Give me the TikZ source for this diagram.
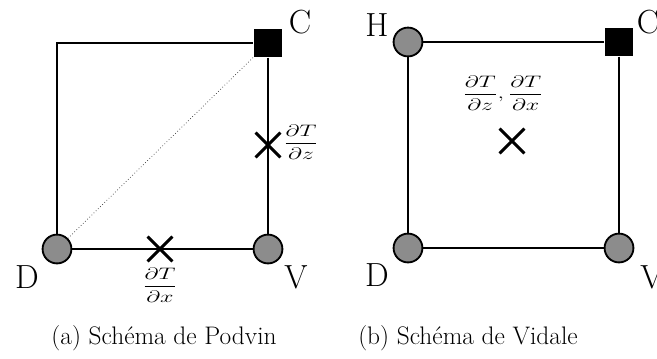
\documentclass[tikz,border=0pt]{standalone}
\usepackage{amsmath}
\usepackage{tikz}
\usetikzlibrary{positioning, shapes.misc}
\definecolor{noeud}{RGB}{140,140,140}

\begin{document}
\begin{tikzpicture}[
    x=0.867pt, y=-0.867pt,
    every node/.style={font=\fontsize{29}{34}\selectfont},
    bord/.style={line width=1.6pt},
    rond/.style={circle, draw, line width=1.6pt, fill=noeud, minimum size=25pt, inner sep=0pt},
    carre/.style={rectangle, fill=black, minimum size=25pt, inner sep=0pt},
    croix/.style={cross out, draw, line width=2.5pt, minimum size=19pt, inner sep=0pt},
    deriv/.style={font=\fontsize{15}{18}\selectfont, inner sep=0pt},
    legende/.style={font=\fontsize{22}{26}\selectfont},
]
\useasboundingbox (0,0) rectangle (657,358);

% (a) schema de Podvin
\coordinate (aHG) at (57,43);
\node[rond] (aD) at (57,249) {};
\node[rond] (aV) at (268,249) {};
\node[carre] (aC) at (268,43) {};
\draw[bord] (aD) -- (aHG) -- (aC);
\draw[bord] (aC) -- (aV);
\draw[bord] (aD) -- (aV);
\draw[dotted, black!80, line width=0.6pt] (aD) -- (aC);

\node[croix] (aX) at (160,249) {};
\node[croix] (aZ) at (268,145) {};
\node[deriv] (ldx) at (160,285) {\scalebox{1.45}[1]{$\dfrac{\partial T}{\partial x}$}};
\node[deriv] (ldz) at (301,142) {\scalebox{1.45}[1]{$\dfrac{\partial T}{\partial z}$}};

\node (lC) at (300,22) {C};
\node (lD) at (27,277) {D};
\node (lV) at (296,277) {V};

% (b) schema de Vidale
\node[rond] (bH) at (408,42) {};
\node[rond] (bD) at (408,248) {};
\node[rond] (bV) at (619,248) {};
\node[carre] (bC) at (619,42) {};
\draw[bord] (bH) -- (bC) -- (bV) -- (bD) -- (bH);

\node[croix] (bX) at (512,141) {};
\node[deriv] (ldzx) at (503,93) {\scalebox{1.45}[1]{$\dfrac{\partial T}{\partial z},\dfrac{\partial T}{\partial x}$}};

\node (lH) at (377,25) {H};
\node (lC2) at (648,22) {C};
\node (lD2) at (377,275) {D};
\node (lV2) at (652,277) {V};

% legendes
\node[legende] (capa) at (164,338) {(a) Schéma de Podvin};
\node[legende] (capb) at (468,338) {(b) Schéma de Vidale};

\end{tikzpicture}
\end{document}
